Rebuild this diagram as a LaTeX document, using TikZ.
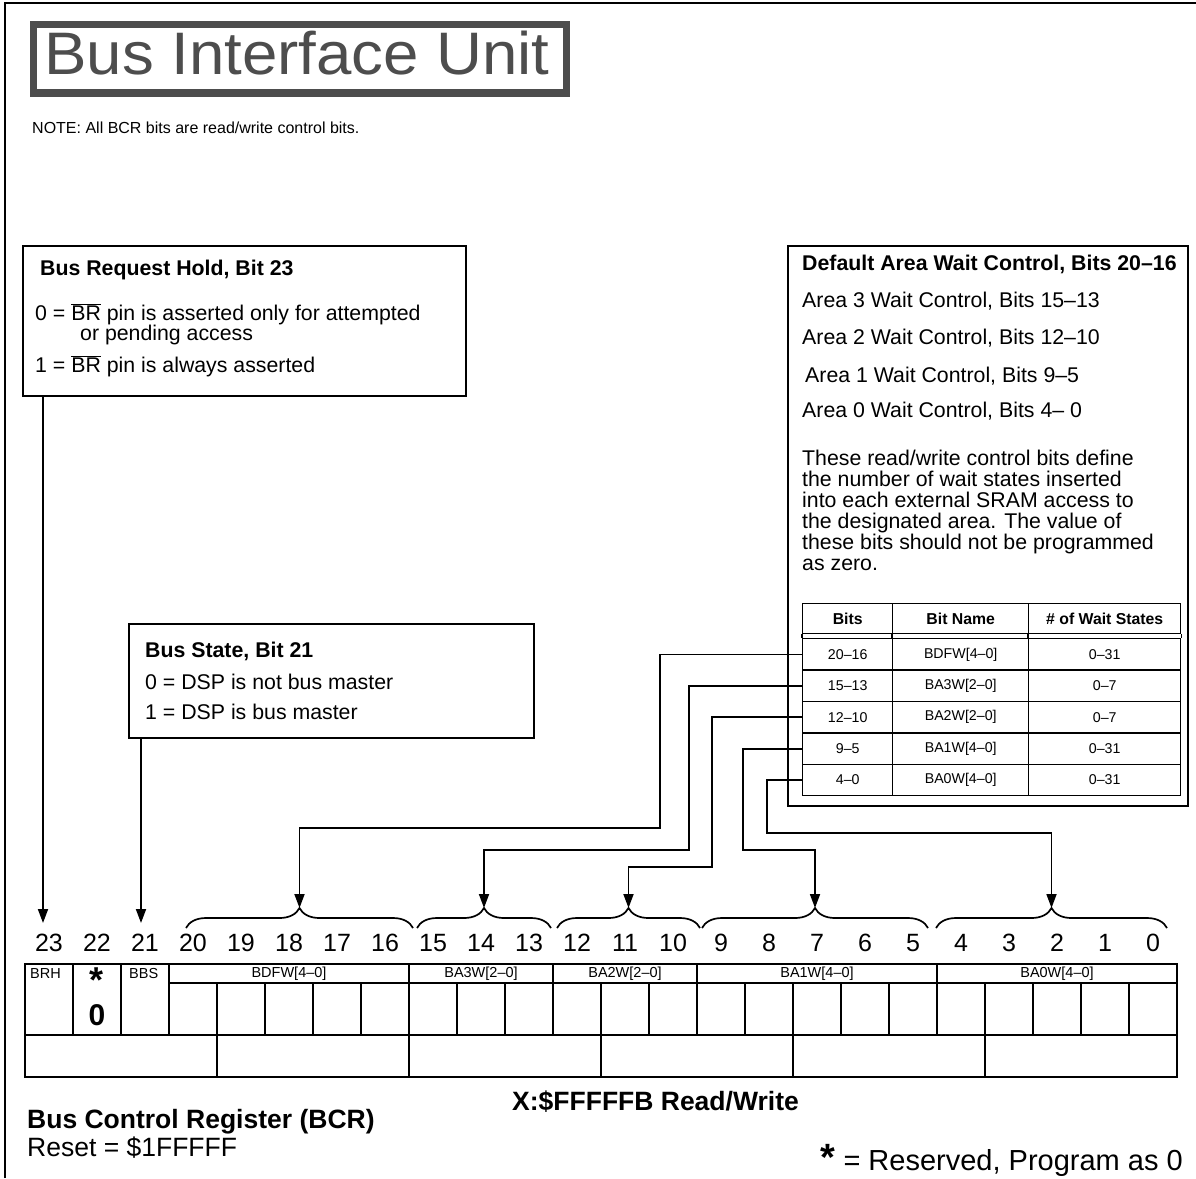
\documentclass[tikz,border=0pt]{standalone}
\usepackage{fontspec}
\setmainfont{Liberation Sans}
\usetikzlibrary{positioning,arrows.meta,calc,decorations.pathreplacing}
\definecolor{titlegray}{HTML}{4D4D4D}
\tikzset{
  flowarrow/.style={-{Triangle[length=14pt,width=10pt]}, line width=1.8pt},
  infobox/.style={draw, line width=1.7pt, anchor=north west, inner sep=0pt},
  boxtext/.style={anchor=base west, inner sep=0pt, font=\fontsize{21.3}{20}\selectfont},
  boxhead/.style={anchor=base west, inner sep=0pt, font=\fontsize{21.3}{20}\selectfont\bfseries},
  cell/.style={draw, line width=1.4pt, anchor=north west, inner sep=0pt, minimum height=31.4pt, font=\fontsize{14.2}{15}\selectfont},
  headcell/.style={cell, minimum height=30pt, font=\fontsize{15.8}{16}\selectfont\bfseries},
  bitnum/.style={inner sep=0pt, font=\fontsize{25}{25}\selectfont},
  fieldname/.style={inner sep=0pt, font=\fontsize{14.5}{15}\selectfont},
  reg/.style={line width=1.8pt},
  groupbrace/.style={decorate, decoration={brace, amplitude=20pt}, line width=1.7pt},
  caption/.style={anchor=base west, inner sep=0pt, font=\fontsize{26.5}{28}\selectfont}
}

\begin{document}
\begin{tikzpicture}[x=1pt, y=-1pt]
  \useasboundingbox (0,0) rectangle (1196,1178);
  \draw[line width=2.2pt] (5,1178) -- (5,3) -- (1196,3);

  % title
  \node[draw=titlegray, line width=7.5pt, anchor=north west, inner sep=0pt,
        minimum width=533pt, minimum height=68.5pt] (titlebox) at (29.5,20.8) {};
  \node[anchor=base, inner sep=0pt, text=titlegray, xscale=1.06, font=\fontsize{60}{60}\selectfont]
        (title) at (297,74) {Bus Interface Unit};
  \node[anchor=base west, inner sep=0pt, font=\fontsize{16}{16}\selectfont] (note) at (32,133)
        {NOTE: All BCR bits are read/write control bits.};

  % bus request hold
  \node[infobox, minimum width=443pt, minimum height=150pt] (brh) at (22,245) {};
  \node[boxhead] (brhhead) at (40,275.5) {Bus Request Hold, Bit 23};
  \node[boxtext] (brh0) at (35,320.5) {0 = \(\overline{\mbox{BR}}\) pin is asserted only for attempted};
  \node[boxtext] (brh0b) at (80,340.5) {or pending access};
  \node[boxtext] (brh1) at (35,372.5) {1 = \(\overline{\mbox{BR}}\) pin is always asserted};

  % bus state
  \node[infobox, minimum width=405pt, minimum height=114pt] (bbs) at (128,623) {};
  \node[boxhead] (bbshead) at (145,657.5) {Bus State, Bit 21};
  \node[boxtext] (bbs0) at (145,689.5) {0 = DSP is not bus master};
  \node[boxtext] (bbs1) at (145,719.5) {1 = DSP is bus master};

  % wait control
  \node[infobox, minimum width=400pt, minimum height=560pt] (dawc) at (787,245) {};
  \node[boxhead] (dawchead) at (802,270.5) {Default Area Wait Control, Bits 20–16};
  \node[boxtext] (area3) at (802,307.5) {Area 3 Wait Control, Bits 15–13};
  \node[boxtext] (area2) at (802,344.5) {Area 2 Wait Control, Bits 12–10};
  \node[boxtext] (area1) at (805,382.5) {Area 1 Wait Control, Bits 9–5};
  \node[boxtext] (area0) at (802,417.5) {Area 0 Wait Control, Bits 4– 0};
  \foreach \txt [count=\i] in {These read/write control bits define,
      the number of wait states inserted, into each external SRAM access to,
      the designated area. The value of, these bits should not be programmed, as zero.}
    \node[boxtext] (par\i) at (802,{465.5+21*(\i-1)}) {\txt};

  % table
  \node[headcell, minimum width=90pt] (hb) at (802,603) {Bits};
  \node[headcell, minimum width=136pt] (hn) at (892,603) {Bit Name};
  \node[headcell, minimum width=152pt] (hw) at (1028,603) {\# of Wait States};
  \foreach \bb/\nn/\ww [count=\i] in {20–16/{BDFW[4–0]}/0–31, 15–13/{BA3W[2–0]}/0–7,
      12–10/{BA2W[2–0]}/0–7, 9–5/{BA1W[4–0]}/0–31, 4–0/{BA0W[4–0]}/0–31} {
    \node[cell, minimum width=90pt] (b\i) at (802,{638+31.4*(\i-1)}) {\bb};
    \node[cell, minimum width=136pt] (n\i) at (892,{638+31.4*(\i-1)}) {\nn};
    \node[cell, minimum width=152pt] (w\i) at (1028,{638+31.4*(\i-1)}) {\ww};
  }
  \draw[line width=1.4pt] (hb.south west) -- (b1.north west) (hn.south west) -- (n1.north west)
    (hw.south west) -- (w1.north west) (hw.south east) -- (w1.north east);

  % braces over the fields
  \foreach \l/\r/\nm in {186/413/DFW, 417/551/AT, 557/700/AS, 702/928/AO, 936/1167/AZ} {
    \draw[groupbrace] (\l,928) -- (\r,928);
    \coordinate (t\nm) at ({(\l+\r)/2},908);
  }
  \coordinate (p23) at (43,923);
  \coordinate (p21) at (141,923);
  \draw[flowarrow] (brh.south -| p23) -- (p23);
  \draw[flowarrow] (bbs.south -| p21) -- (p21);
  \draw[flowarrow] (b1.west) -| (660,828) -| (tDFW);
  \draw[flowarrow] (b2.west) -| (689,850) -| (tAT);
  \draw[flowarrow] (b3.west) -| (712,867) -| (tAS);
  \draw[flowarrow] (b4.west) -| (743,850) -| (tAO);
  \draw[flowarrow] (b5.west) -| (767,833) -| (tAZ);

  % register
  \foreach \b in {0,...,23}
    \node[bitnum] (bit\b) at ({49+48*(23-\b)},943) {\b};
  \draw[reg] (25,964) rectangle (1177,1077);
  \draw[reg] (25,1035) -- (1177,1035);
  \draw[reg] (169,983) -- (1177,983);
  \foreach \k in {1,2,3} \draw[reg] ({25+48*\k},964) -- ({25+48*\k},1035);
  \foreach \k in {4,...,23} \draw[reg] ({25+48*\k},983) -- ({25+48*\k},1035);
  \foreach \k in {8,11,14,19} \draw[reg] ({25+48*\k},964) -- ({25+48*\k},983);
  \foreach \k in {4,8,12,16,20} \draw[reg] ({25+48*\k},1035) -- ({25+48*\k},1077);
  \node[fieldname, anchor=north west] (fBRH) at (30,968) {BRH};
  \node[fieldname, anchor=north west] (fBBS) at (129,968) {BBS};
  \node[fieldname] (fDFW) at (289,974) {BDFW[4–0]};
  \node[fieldname] (fAT) at (481,974) {BA3W[2–0]};
  \node[fieldname] (fAS) at (625,974) {BA2W[2–0]};
  \node[fieldname] (fAO) at (817,974) {BA1W[4–0]};
  \node[fieldname] (fAZ) at (1057,974) {BA0W[4–0]};
  \node[anchor=base, inner sep=0pt, font=\fontsize{36}{36}\selectfont\bfseries] (star) at (97,992) {*};
  \node[anchor=base, inner sep=0pt, font=\fontsize{30}{30}\selectfont\bfseries] (zero) at (97,1025) {0};

  % captions
  \node[caption, font=\fontsize{26.5}{28}\selectfont\bfseries] (bcr) at (27,1128) {Bus Control Register (BCR)};
  \node[caption] (reset) at (27,1156) {Reset = \$1FFFFF};
  \node[caption, font=\fontsize{26.5}{28}\selectfont\bfseries] (addr) at (512,1110) {X:\$FFFFFB Read/Write};
  \node[caption, anchor=base east, font=\fontsize{29}{29}\selectfont] (resv) at (1183,1170)
    {{\fontsize{38}{38}\selectfont\bfseries *} = Reserved, Program as 0};
\end{tikzpicture}
\end{document}
